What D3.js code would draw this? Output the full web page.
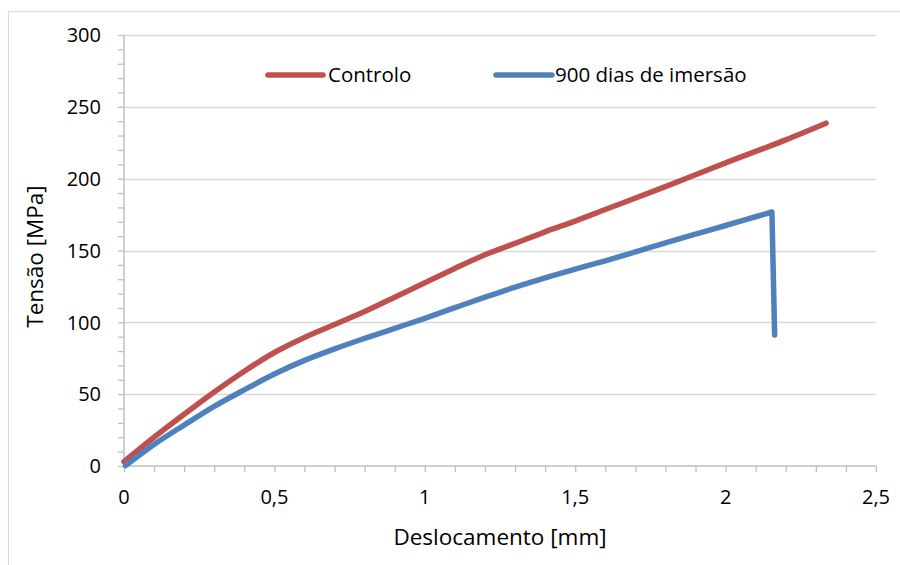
<!DOCTYPE html>
<html>
<head>
<meta charset="utf-8">
<script src="https://cdn.jsdelivr.net/npm/d3@7"></script>
<style>
  html, body { margin: 0; padding: 0; background: #fff; }
  svg { display: block; font-family: "Open Sans", sans-serif; }
</style>
</head>
<body>
<svg id="chart" width="900" height="565"></svg>
<script>
// Tensile test: stress vs. displacement
const seriesNames = ["Controlo", "900 dias de imersão"];
const seriesColors = ["#c0504d", "#4f81bd"];

// Controlo curve: displacement [mm]
const controloX = [0, 0.1, 0.2, 0.3, 0.4, 0.5, 0.6, 0.7, 0.8, 0.9, 1.0, 1.1, 1.2, 1.3, 1.4, 1.5, 1.6, 1.8, 2.0, 2.2, 2.334];
// Controlo curve: stress [MPa]
const controloY = [3, 20, 36, 51.5, 66, 79, 89.5, 98.5, 107.5, 117.5, 127.5, 137.5, 147, 155, 163, 170.5, 178.5, 194.5, 211, 227, 238.6];

// Immersed curve: displacement [mm]
const imersaoX = [0.005, 0.1, 0.2, 0.3, 0.4, 0.5, 0.6, 0.7, 0.8, 0.9, 1.0, 1.1, 1.2, 1.3, 1.4, 1.5, 1.6, 1.7, 1.8, 1.9, 2.0, 2.1, 2.154, 2.163];
// Immersed curve: stress [MPa]
const imersaoY = [0.3, 15, 28.5, 41.5, 53, 64, 73.5, 81.5, 88.8, 95.8, 102.8, 110.2, 117.5, 124.5, 131, 137, 142.8, 149, 155.3, 161.4, 167.4, 173.5, 176.8, 91.2];

// Axis ticks
const xTicks = [0, 0.5, 1, 1.5, 2, 2.5];
const xTickLabels = ["0", "0,5", "1", "1,5", "2", "2,5"];
const yTicks = [0, 50, 100, 150, 200, 250, 300];
const yTickLabels = ["0", "50", "100", "150", "200", "250", "300"];

const xTitle = "Deslocamento [mm]";
const yTitle = "Tensão [MPa]";

const svg = d3.select("#chart");
const plot = { left: 124, right: 876, top: 35, bottom: 466 };

const x = d3.scaleLinear().domain([0, 2.5]).range([plot.left, plot.right]);
const y = d3.scaleLinear().domain([0, 300]).range([plot.bottom, plot.top]);

// outer chart frame
svg.append("rect")
  .attr("x", 8.5).attr("y", 11.5)
  .attr("width", 905).attr("height", 570)
  .attr("fill", "none").attr("stroke", "#d9d9d9").attr("stroke-width", 1.2);

// horizontal gridlines
svg.append("g").selectAll("line")
  .data(yTicks.slice(1))
  .join("line")
  .attr("x1", plot.left).attr("x2", plot.right)
  .attr("y1", d => Math.round(y(d)) + 0.5).attr("y2", d => Math.round(y(d)) + 0.5)
  .attr("stroke", "#d9d9d9").attr("stroke-width", 1.4);

const axisColor = "#bfbfbf";

// y axis with minor ticks
const yMinor = d3.range(0, 301, 10);
const yAxisG = svg.append("g").attr("transform", `translate(${plot.left},0)`);
yAxisG.call(d3.axisLeft(y).tickValues(yMinor).tickSize(6).tickFormat(""));
yAxisG.select(".domain").remove();
yAxisG.selectAll(".tick line").attr("stroke", axisColor).attr("stroke-width", 1.3);
yAxisG.append("line")
  .attr("x1", 0).attr("x2", 0).attr("y1", plot.top).attr("y2", plot.bottom)
  .attr("stroke", axisColor).attr("stroke-width", 1.5);

// x axis with minor ticks
const xMinor = d3.range(0, 26).map(i => i / 10);
const xAxisG = svg.append("g").attr("transform", `translate(0,${plot.bottom})`);
xAxisG.call(d3.axisBottom(x).tickValues(xMinor).tickSize(6).tickFormat(""));
xAxisG.select(".domain").remove();
xAxisG.selectAll(".tick line").attr("stroke", axisColor).attr("stroke-width", 1.3);
xAxisG.append("line")
  .attr("x1", plot.left).attr("x2", plot.right).attr("y1", 0).attr("y2", 0)
  .attr("stroke", axisColor).attr("stroke-width", 1.5);

// tick labels
svg.append("g").selectAll("text")
  .data(yTicks)
  .join("text")
  .attr("x", 101)
  .attr("y", d => y(d))
  .attr("dy", "0.36em")
  .attr("text-anchor", "end")
  .attr("font-size", 20)
  .attr("fill", "#000")
  .text((d, i) => yTickLabels[i]);

svg.append("g").selectAll("text")
  .data(xTicks)
  .join("text")
  .attr("x", d => x(d))
  .attr("y", 504)
  .attr("text-anchor", "middle")
  .attr("font-size", 20)
  .attr("fill", "#000")
  .text((d, i) => xTickLabels[i]);

// axis titles
svg.append("text")
  .attr("x", (plot.left + plot.right) / 2)
  .attr("y", 545)
  .attr("text-anchor", "middle")
  .attr("font-size", 22.5)
  .attr("fill", "#000")
  .text(xTitle);

svg.append("text")
  .attr("transform", `translate(43,${(plot.top + plot.bottom) / 2 + 6}) rotate(-90)`)
  .attr("text-anchor", "middle")
  .attr("font-size", 22.5)
  .attr("fill", "#000")
  .text(yTitle);

// data lines: smooth rising part, straight drop after the peak (fracture)
const series = [
  { name: seriesNames[0], color: seriesColors[0], pts: controloX.map((v, i) => [v, controloY[i]]) },
  { name: seriesNames[1], color: seriesColors[1], pts: imersaoX.map((v, i) => [v, imersaoY[i]]) }
];

const smooth = d3.line()
  .x(d => x(d[0]))
  .y(d => y(d[1]))
  .curve(d3.curveMonotoneX);

function pathFor(pts) {
  const peak = d3.maxIndex(pts, d => d[1]);
  let d = smooth(pts.slice(0, peak + 1));
  pts.slice(peak + 1).forEach(p => { d += `L${x(p[0])},${y(p[1])}`; });
  return d;
}

svg.append("g").selectAll("path")
  .data(series)
  .join("path")
  .attr("d", d => pathFor(d.pts))
  .attr("fill", "none")
  .attr("stroke", d => d.color)
  .attr("stroke-width", 5.5)
  .attr("stroke-linejoin", "round")
  .attr("stroke-linecap", "round");

// legend
const legendItems = [
  { x1: 268, x2: 323, tx: 328 },
  { x1: 496, x2: 552, tx: 555 }
];
const legend = svg.append("g");
legendItems.forEach((it, i) => {
  legend.append("line")
    .attr("x1", it.x1).attr("x2", it.x2).attr("y1", 75).attr("y2", 75)
    .attr("stroke", seriesColors[i]).attr("stroke-width", 5.5)
    .attr("stroke-linecap", "round");
  legend.append("text")
    .attr("x", it.tx).attr("y", 75).attr("dy", "0.36em")
    .attr("font-size", 20.5).attr("fill", "#000")
    .text(seriesNames[i]);
});
</script>
</body>
</html>
